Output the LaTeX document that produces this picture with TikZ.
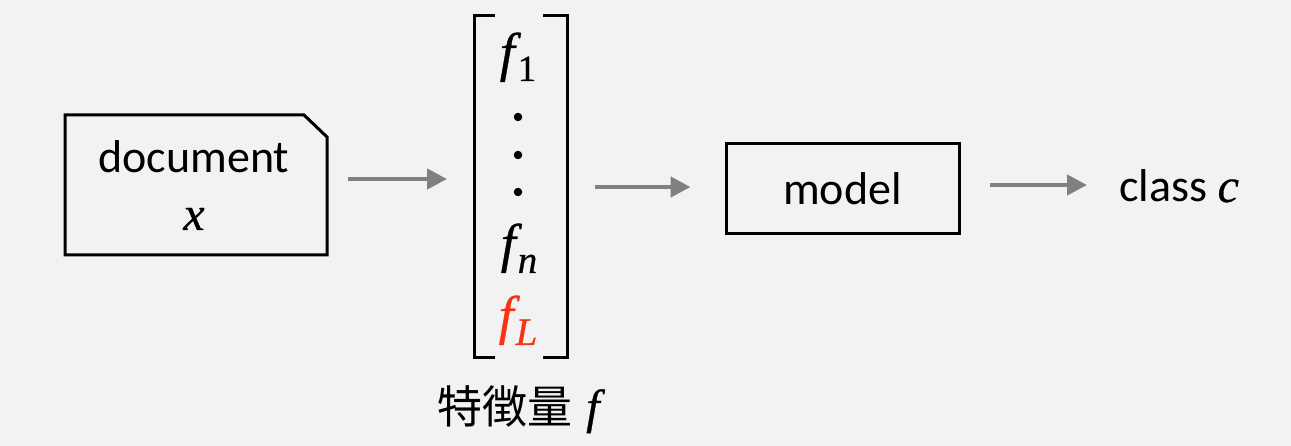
\documentclass[tikz,border=0pt]{standalone}
\usepackage{fontspec}
\setmainfont{Carlito}
\newfontfamily\vf{Liberation Serif}[FakeBold=0.6]
\newfontfamily\cjk{Noto Sans CJK JP}
\usetikzlibrary{arrows.meta}
\definecolor{bg}{HTML}{F2F2F2}
\definecolor{arrgray}{HTML}{808080}
\definecolor{fred}{RGB}{250,50,20}
\newcommand{\mvbig}[1]{{\fontsize{54}{64}\selectfont\vf\itshape #1}}
\newcommand{\mvmid}[1]{{\fontsize{48}{58}\selectfont\vf\itshape #1}}
\newcommand{\subup}[2]{\kern3pt\raisebox{-#1}{\fontsize{37}{44}\selectfont\vf #2}}
\newcommand{\subit}[2]{\kern2pt\raisebox{-#1}{\fontsize{39}{46}\selectfont\vf\itshape #2}}
\begin{document}
\begin{tikzpicture}[x=1pt,y=-1pt,
  txt/.style={inner sep=0pt, anchor=base, font=\fontsize{46}{55}\selectfont},
  arr/.style={draw=arrgray, line width=4.5pt, -{Triangle[length=20pt,width=20pt]}},
  frame/.style={draw=black, line width=3pt},
  blank/.style={inner sep=0pt, outer sep=0pt},
  dotmark/.style={circle, fill=black, minimum size=8.5pt, inner sep=0pt},
]
\fill[bg] (0,0) rectangle (1291,446);
\useasboundingbox (0,0) rectangle (1291,446);

% document box
\node[blank, minimum width=262pt, minimum height=140pt] (doc) at (196,185) {};
\draw[frame] (doc.south west) -- (doc.north west) -- ([xshift=-23pt]doc.north east)
  -- ([yshift=-22pt]doc.north east) -- (doc.south east) -- cycle;
\node[txt] (doclabel) at (194,173) {document};
\node[txt] (docvar) at (194,230) {\mvmid{x}};

% feature vector
\node[blank, minimum width=93pt, minimum height=342pt] (vec) at (520.5,187) {};
\draw[frame] ([xshift=21pt]vec.north west) -- (vec.north west) -- (vec.south west) -- ([xshift=21pt]vec.south west);
\draw[frame] ([xshift=-24pt]vec.north east) -- (vec.north east) -- (vec.south east) -- ([xshift=-24pt]vec.south east);
\node[txt] (f1) at (518,70.5) {\mvbig{f}\subup{10.5pt}{1}};
\node[dotmark] (d1) at (518,117) {};
\node[dotmark] (d2) at (518,155) {};
\node[dotmark] (d3) at (518,192) {};
\node[txt] (fn) at (519,261.5) {\mvbig{f}\subit{11.5pt}{n}};
\node[txt, text=fred] (fL) at (518,333.5) {\mvbig{f}\subit{11.5pt}{L}};
\node[txt, anchor=base west, font=\fontsize{45}{54}\selectfont] (flabel) at (437,423) {{\cjk 特徴量}\hspace{14pt}\mvmid{f}};

% model
\node[frame, minimum width=233pt, minimum height=90pt, inner sep=0pt, font=\fontsize{46}{55}\selectfont] (model) at (842.5,189) {model};

% class
\node[txt, anchor=base west] (cls) at (1119,202) {class \mvmid{c}};

% arrows
\draw[arr] ([xshift=21pt,yshift=6pt]doc.east) -- ([xshift=-27pt,yshift=8pt]vec.west);
\draw[arr] ([xshift=28pt]vec.east) -- ([xshift=-34pt,yshift=2pt]model.west);
\draw[arr] ([xshift=29pt,yshift=4pt]model.east) -- ([xshift=-32pt,yshift=17pt]cls.base west);
\end{tikzpicture}
\end{document}
